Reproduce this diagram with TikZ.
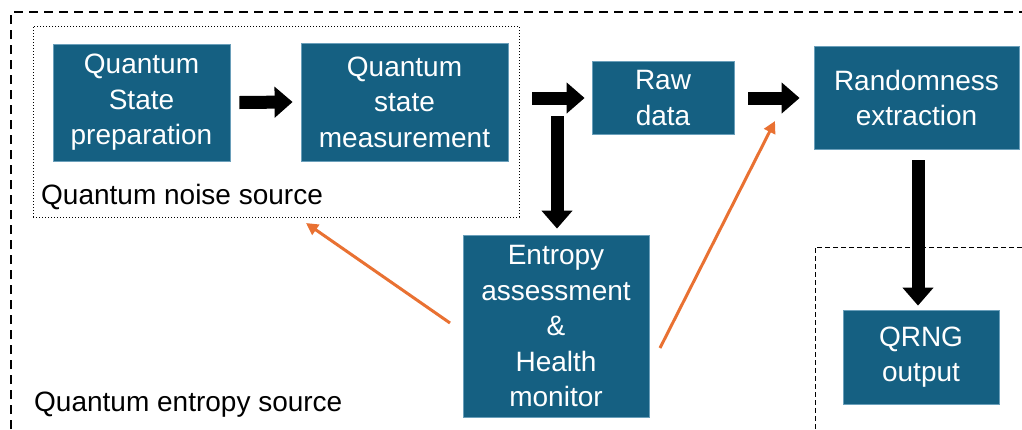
\documentclass[tikz,border=0pt]{standalone}
\usepackage{fontspec}
\setmainfont{Liberation Sans}
\usetikzlibrary{arrows.meta}
\definecolor{boxblue}{HTML}{156082}
\definecolor{boxedge}{HTML}{6A9FBA}
\definecolor{accorange}{HTML}{E97132}
\begin{document}
\begin{tikzpicture}[x=1pt,y=-1pt,
  font=\fontsize{28}{35.5}\selectfont,
  box/.style={draw=boxedge, line width=0.8pt, fill=boxblue, text=white, align=center, inner sep=0pt},
  blk/.style={line width=13pt, black, -{Triangle[length=18pt 0 0, width=30pt 0 0]}},
  orng/.style={line width=3pt, accorange, -{Triangle[length=12pt 0 0, width=12pt 0 0]}},
  lbl/.style={anchor=west, inner sep=0pt, text=black}
]
\useasboundingbox (0,0) rectangle (1022,429);
\fill[white] (0,0) rectangle (1022,429);
% outer entropy source frame
\draw[line width=1.2pt, dash pattern=on 9pt off 6pt] (11,429) -- (11,12) -- (1022,12);
% output frame
\draw[line width=1pt, dash pattern=on 5pt off 3pt] (1022,247) -- (815,247) -- (815,429);
% noise source frame
\node[draw, dotted, line width=1pt, minimum width=486pt, minimum height=191pt, inner sep=0pt] (noise) at (276,121.5) {};

\node[box, minimum width=177pt, minimum height=117pt] (prep) at (141.5,102.5) {Quantum\\State\\preparation};
\node[box, minimum width=207pt, minimum height=118pt] (meas) at (404.5,102) {Quantum\\state\\measurement};
\node[box, minimum width=142pt, minimum height=73pt] (raw) at (663,98) {Raw\\data};
\node[box, minimum width=205pt, minimum height=103pt] (ext) at (916.5,98) {Randomness\\extraction};
\node[box, minimum width=186pt, minimum height=182pt] (ent) at (556,326) {Entropy\\assessment\\\&\\Health\\monitor};
\node[box, minimum width=156pt, minimum height=94pt] (out) at (921,357) {QRNG\\output};

\node[lbl] (noiselbl) at (41,197) {Quantum noise source};
\node[lbl] (entlbl) at (34,405) {Quantum entropy source};

% black block arrows
\draw[blk] ([xshift=9pt]prep.east) -- ([xshift=-8pt]meas.west);
\draw[blk] ([xshift=24pt]raw.west -| meas.east) -- ([xshift=-7pt]raw.west);
\draw[blk] ([xshift=14pt]raw.east) -- ([xshift=-14pt]ext.west);
\coordinate (split) at (557,116);
\draw[blk] (split) -- ([yshift=6pt]split |- ent.north);
\coordinate (extdown) at (918,160);
\draw[blk] (extdown) -- ([yshift=4pt]extdown |- out.north);

% orange feedback arrows
\coordinate (oL1) at (450,323);
\coordinate (oL2) at (306,223);
\coordinate (oR1) at (660,348);
\coordinate (oR2) at (775,121);
\draw[orng] (oL1) -- (oL2);
\draw[orng] (oR1) -- (oR2);
\end{tikzpicture}
\end{document}
